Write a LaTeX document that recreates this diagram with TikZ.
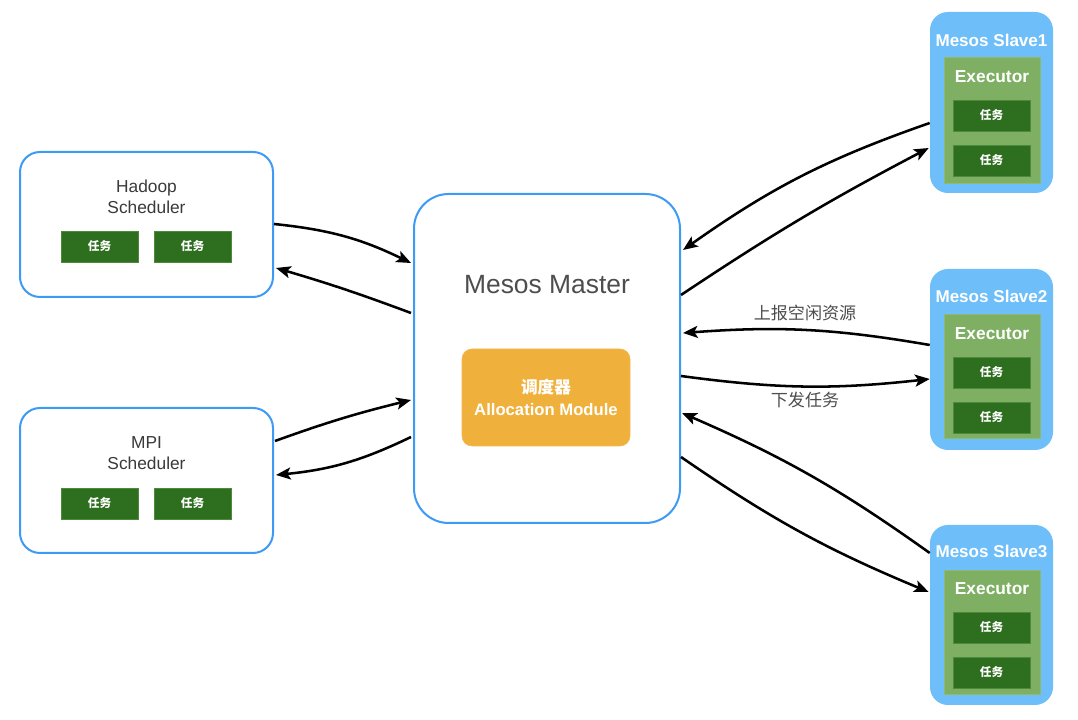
\documentclass[tikz,border=0pt]{standalone}
\usepackage{fontspec}
\setmainfont{Liberation Sans}
\newfontfamily\cjk{Noto Sans CJK SC}
\usetikzlibrary{arrows.meta,calc}
\definecolor{bordblue}{HTML}{3D9BF5}
\definecolor{slavefill}{HTML}{6EBEFA}
\definecolor{execfill}{HTML}{7EAF62}
\definecolor{execdraw}{HTML}{8DBA72}
\definecolor{taskfill}{HTML}{2E6F1F}
\definecolor{taskdraw}{HTML}{4E8A3C}
\definecolor{allocfill}{HTML}{F0B03C}
\definecolor{txtgrey}{HTML}{3A3A3A}
\definecolor{lblgrey}{HTML}{4D4D4D}
\tikzset{
  schedbox/.style={draw=bordblue, line width=1.5pt, fill=white, rounded corners=15pt,
    minimum width=189.75pt, minimum height=108.75pt, inner sep=0pt},
  masterbox/.style={draw=bordblue, line width=1.5pt, fill=white, rounded corners=26pt,
    minimum width=199.5pt, minimum height=246.75pt, inner sep=0pt},
  allocbox/.style={fill=allocfill, draw=allocfill!90!white, rounded corners=7.5pt,
    minimum width=126pt, minimum height=72.75pt, inner sep=0pt, align=center,
    text=white, font=\bfseries\fontsize{12.5pt}{17pt}\selectfont},
  slavebox/.style={fill=slavefill, draw=none, rounded corners=13.5pt,
    minimum width=92.25pt, inner sep=0pt},
  execbox/.style={fill=execfill, draw=execdraw, line width=0.6pt,
    minimum width=72pt, inner sep=0pt},
  taskbox/.style={fill=taskfill, draw=taskdraw, line width=0.6pt,
    minimum width=57.75pt, minimum height=23.25pt, inner sep=0pt,
    text=white, font=\cjk\bfseries\fontsize{8.75pt}{10pt}\selectfont},
  schedtext/.style={align=center, text=txtgrey, font=\fontsize{13pt}{15.75pt}\selectfont},
  slavetitle/.style={text=white, font=\bfseries\fontsize{12.8pt}{15pt}\selectfont},
  exectitle/.style={text=white, font=\bfseries\fontsize{13pt}{15pt}\selectfont},
  lbl/.style={text=lblgrey, font=\cjk\fontsize{12.8pt}{15pt}\selectfont},
  conn/.style={line width=1.9pt, -{Stealth[length=11pt,width=9pt,inset=2.5pt]}},
}
\begin{document}
\begin{tikzpicture}[x=0.75pt,y=0.75pt]
\fill[white] (0,0) rectangle (1078,720);
\useasboundingbox (0,0) rectangle (1078,720);

% schedulers
\node[schedbox] (had) at (146.5,495.5) {};
\node[schedtext] (hadt) at (146.5,523.5) {Hadoop\\Scheduler};
\node[taskbox] (ht1) at (99.5,473.5) {任务};
\node[taskbox] (ht2) at (192.5,473.5) {任务};

\node[schedbox] (mpi) at (146.5,239.5) {};
\node[schedtext] (mpit) at (146.5,266.5) {MPI\\Scheduler};
\node[taskbox] (mt1) at (99.5,216.5) {任务};
\node[taskbox] (mt2) at (192.5,216.5) {任务};

% master
\node[masterbox] (mas) at (547,361.5) {};
\node[text=lblgrey, font=\fontsize{19.8pt}{22pt}\selectfont] (mast) at (547,435) {Mesos Master};
\node[allocbox] (alloc) at (546,322.5) {{\cjk 调度器}\\Allocation Module};

% slave 1
\node[slavebox, minimum height=135.75pt] (s1) at (991.5,617.5) {};
\node[slavetitle] (s1t) at (991.5,680) {Mesos Slave1};
\node[execbox, minimum height=94.5pt] (e1) at (992,600) {};
\node[exectitle] (e1t) at (992,643) {Executor};
\node[taskbox] (s1a) at (991.5,604.5) {任务};
\node[taskbox] (s1b) at (991.5,559.5) {任务};

% slave 2
\node[slavebox, minimum height=135.75pt] (s2) at (991.5,360.5) {};
\node[slavetitle] (s2t) at (991.5,424) {Mesos Slave2};
\node[execbox, minimum height=93pt] (e2) at (992,344) {};
\node[exectitle] (e2t) at (992,386) {Executor};
\node[taskbox] (s2a) at (991.5,347.5) {任务};
\node[taskbox] (s2b) at (991.5,302.5) {任务};

% slave 3
\node[slavebox, minimum height=135pt] (s3) at (991.5,105) {};
\node[slavetitle] (s3t) at (991.5,169) {Mesos Slave3};
\node[execbox, minimum height=93pt] (e3) at (992,88) {};
\node[exectitle] (e3t) at (992,131) {Executor};
\node[taskbox] (s3a) at (991.5,92.5) {任务};
\node[taskbox] (s3b) at (991.5,47.5) {任务};

% labels
\node[lbl] (up) at (805,407) {上报空闲资源};
\node[lbl] (down) at (805,320) {下发任务};

% connectors left
\draw[conn] ($(had.east)+(0,0.5)$) to[bend left=10] ($(mas.west)+(-2,95.5)$);
\draw[conn] ($(mas.west)+(-2,45.5)$) to[bend right=2] ($(had.east)+(2,-43.5)$);
\draw[conn] ($(mpi.east)+(1,39.5)$) to[bend left=3] ($(mas.west)+(-2,-41.5)$);
\draw[conn] ($(mas.west)+(-2,-78.5)$) to[bend left=10] ($(mpi.east)+(2,5.5)$);

% connectors right
\draw[conn] ($(s1.west)+(0,-20.5)$) to[bend right=8] ($(mas.east)+(2,108.5)$);
\draw[conn] ($(mas.east)+(0,63.5)$) to[bend left=3] ($(s1.west)+(-1,-45.5)$);
\draw[conn] ($(s2.west)+(0,14.5)$) to[bend right=7] ($(mas.east)+(2,25.5)$);
\draw[conn] ($(mas.east)+(0,-17.5)$) to[bend right=7] ($(s2.west)+(0,-19.5)$);
\draw[conn] ($(s3.west)+(0,62)$) to[bend right=6] ($(mas.east)+(1,-54.5)$);
\draw[conn] ($(mas.east)+(0,-98.5)$) to[bend right=6] ($(s3.west)+(-1,23)$);
\end{tikzpicture}
\end{document}
